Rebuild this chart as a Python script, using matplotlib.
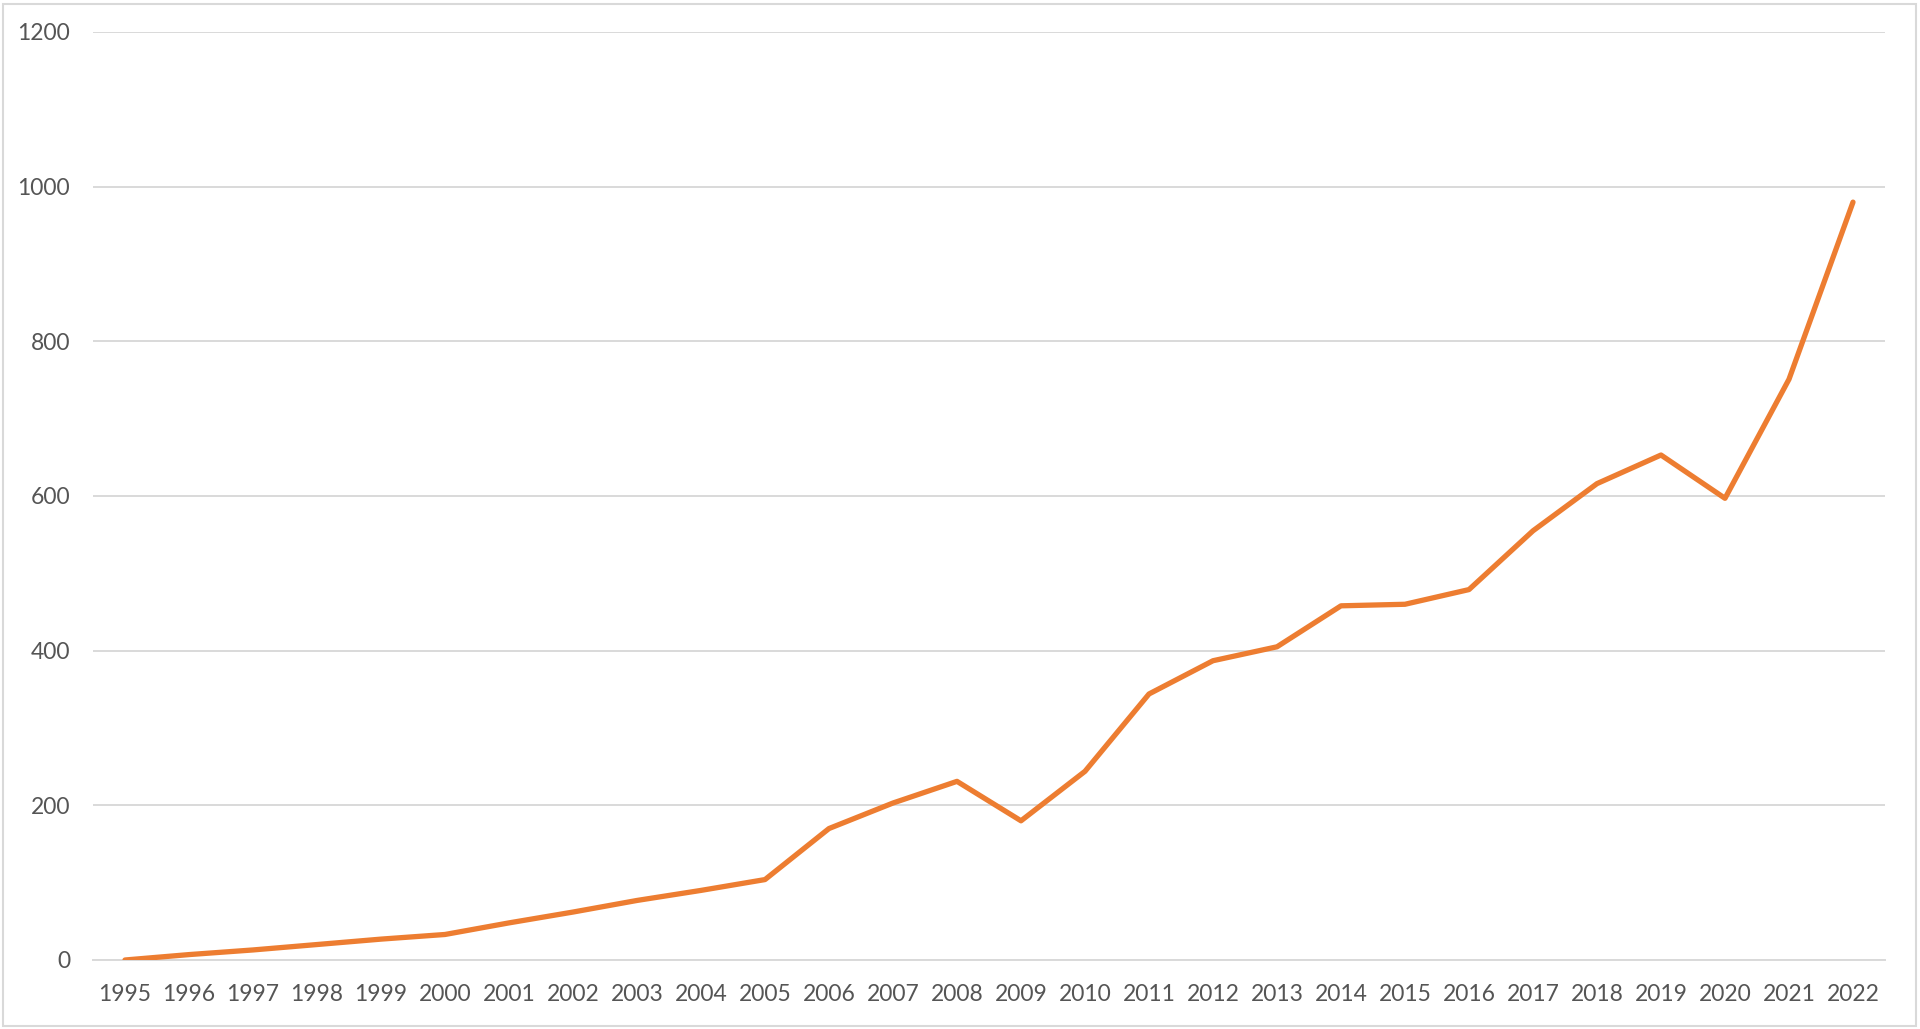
import matplotlib.pyplot as plt
from matplotlib.patches import Rectangle

# Données
years = [1995, 1996, 1997, 1998, 1999, 2000, 2001, 2002, 2003, 2004,
         2005, 2006, 2007, 2008, 2009, 2010, 2011, 2012, 2013, 2014,
         2015, 2016, 2017, 2018, 2019, 2020, 2021, 2022]
values = [0, 7, 13, 20, 27, 33, 48, 62, 77, 90,
          104, 170, 203, 231, 180, 244, 344, 387, 405, 458,
          460, 479, 555, 616, 653, 597, 751, 980]
y_ticks = [0, 200, 400, 600, 800, 1000, 1200]

line_color = '#ED7D31'
grid_color = '#D9D9D9'
text_color = '#595959'

plt.rcParams['font.family'] = ['Lato', 'DejaVu Sans']

fig = plt.figure(figsize=(19.2, 10.29), dpi=100)
ax = fig.add_axes([93 / 1920, 1 - 960 / 1029, (1885 - 93) / 1920, (960 - 32) / 1029])

x = list(range(len(years)))
ax.plot(x, values, color=line_color, linewidth=3.8,
        solid_capstyle='round', solid_joinstyle='round', zorder=3)

ax.set_xlim(-0.5, len(years) - 0.5)
ax.set_ylim(0, 1200)
ax.set_yticks(y_ticks)
ax.set_xticks(x)
ax.set_xticklabels([str(a) for a in years])

# Grille horizontale, style Excel
ax.grid(axis='y', color=grid_color, linewidth=1.4, zorder=0)
ax.grid(axis='x', visible=False)
for s in ['top', 'right', 'left']:
    ax.spines[s].set_visible(False)
ax.spines['bottom'].set_color(grid_color)
ax.spines['bottom'].set_linewidth(1.4)

ax.tick_params(axis='both', length=0, labelsize=16.5, labelcolor='#555555')
ax.tick_params(axis='y', pad=16.5)
ax.tick_params(axis='x', pad=17)

# Cadre gris autour de la figure
fig.patches.append(Rectangle((3 / 1920, 3 / 1029), 1 - 7 / 1920, 1 - 7 / 1029,
                             transform=fig.transFigure, fill=False,
                             edgecolor=grid_color, linewidth=1.5))

plt.savefig('out.png', dpi=100, facecolor='white')
